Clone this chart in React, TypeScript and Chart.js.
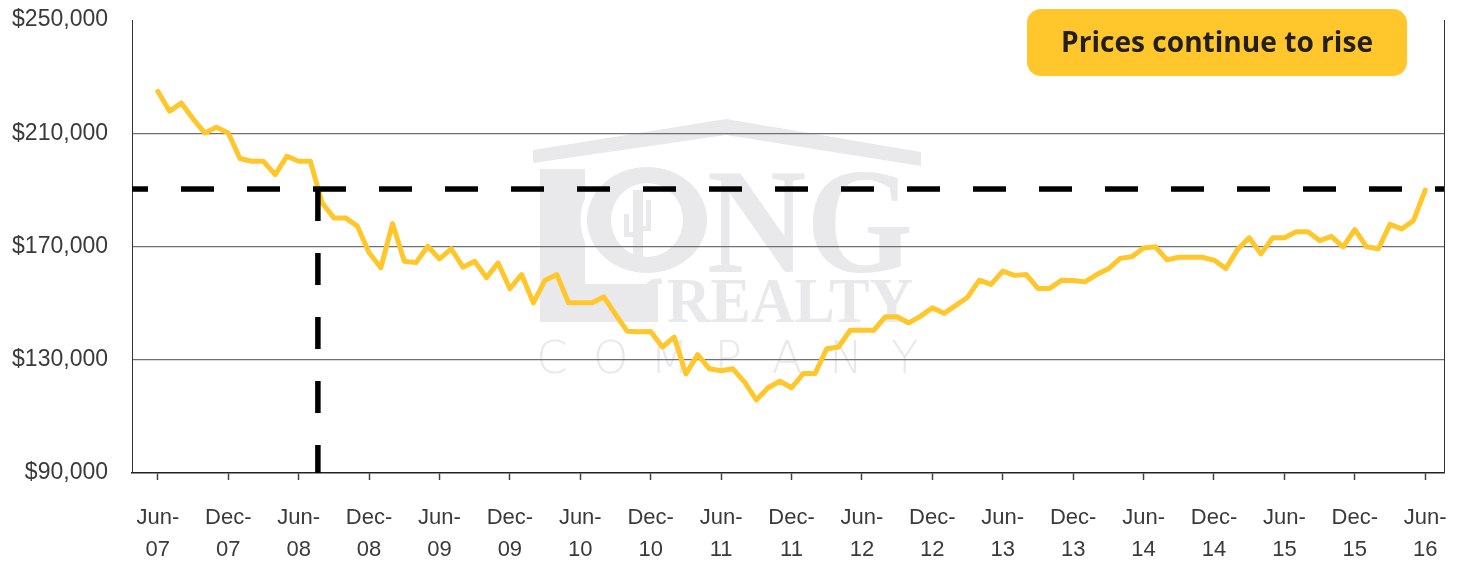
import React, { useEffect, useRef } from "react";
import { Chart, registerables } from "chart.js";

Chart.register(...registerables);

// ---- Data ----
const tickLabels = [
  "Jun-07", "Dec-07", "Jun-08", "Dec-08", "Jun-09", "Dec-09", "Jun-10", "Dec-10",
  "Jun-11", "Dec-11", "Jun-12", "Dec-12", "Jun-13", "Dec-13", "Jun-14", "Dec-14",
  "Jun-15", "Dec-15", "Jun-16",
];

// Monthly median price, Jun-07 .. Jun-16 (109 months)
const prices = [
  224800, 217800, 220700, 215100, 210100, 212100, 210100, 201100, 200100, 200100,
  195400, 201900, 200100, 200100, 185400, 180100, 180100, 177200, 167800, 162500,
  178100, 164800, 164300, 170100, 165600, 169200, 162700, 164800, 159000, 164200,
  155100, 160100, 150100, 158100, 160100, 150100, 150100, 150100, 152200, 146000,
  140100, 139900, 140000, 134500, 138000, 125000, 131800, 126800, 126100, 126800,
  122100, 115800, 120100, 122400, 120100, 125100, 125100, 133900, 134500, 140400,
  140400, 140400, 145200, 145200, 143000, 145400, 148400, 146400, 149200, 152100,
  158100, 156600, 161300, 159800, 160100, 155200, 155200, 158100, 158000, 157500,
  160100, 162100, 165800, 166400, 169500, 169900, 165300, 166200, 166200, 166200,
  165200, 162200, 168900, 173100, 167400, 173100, 173100, 175200, 175200, 172100,
  173600, 169900, 176000, 169900, 169200, 177800, 176200, 179200, 189900,
];

const yTicks = [90000, 130000, 170000, 210000, 250000];
const referencePrice = 190300; // horizontal dashed level
const crossoverMonth = 13.64; // where prices first fell below the level
const calloutText = "Prices continue to rise";

const X_MIN = -2.2;
const X_MAX = 109.6;
const Y_MIN = 90000;
const Y_MAX = 250000;

const YELLOW = "#FFC72C";
const WM = "#e9e9eb";

function fitText(ctx: CanvasRenderingContext2D, text: string, left: number, right: number, baseline: number, font: string) {
  ctx.font = font;
  ctx.textAlign = "left";
  ctx.textBaseline = "alphabetic";
  const w = ctx.measureText(text).width;
  ctx.save();
  ctx.translate(left, baseline);
  ctx.scale((right - left) / w, 1);
  ctx.fillText(text, 0, 0);
  ctx.restore();
}

const watermarkPlugin = {
  id: "watermark",
  beforeDraw(chart: any) {
    const ctx: CanvasRenderingContext2D = chart.ctx;
    ctx.save();
    ctx.fillStyle = WM;
    // roof
    ctx.beginPath();
    ctx.moveTo(533, 150);
    ctx.lineTo(726, 119);
    ctx.lineTo(921, 152);
    ctx.lineTo(921, 166);
    ctx.lineTo(726, 135);
    ctx.lineTo(533, 163);
    ctx.closePath();
    ctx.fill();
    // L
    ctx.fillRect(540, 169, 45, 153);
    ctx.fillRect(540, 284, 118, 38);
    ctx.beginPath();
    ctx.moveTo(646, 284);
    ctx.lineTo(660, 272);
    ctx.lineTo(662, 284);
    ctx.closePath();
    ctx.fill();
    // white separation around O
    ctx.strokeStyle = "#ffffff";
    ctx.lineWidth = 7;
    ctx.beginPath();
    ctx.ellipse(647, 220, 63, 56, 0, 0, Math.PI * 2);
    ctx.stroke();
    ctx.fillStyle = "#ffffff";
    ctx.beginPath();
    ctx.ellipse(647, 220, 60, 53, 0, 0, Math.PI * 2);
    ctx.fill();
    // O ring
    ctx.fillStyle = WM;
    ctx.beginPath();
    ctx.ellipse(647, 220, 60, 53, 0, 0, Math.PI * 2);
    ctx.ellipse(647, 220, 36, 37, 0, 0, Math.PI * 2);
    ctx.fill("evenodd");
    // cactus
    ctx.fillRect(633, 190, 10, 67);
    ctx.fillRect(624, 214, 5, 22);
    ctx.fillRect(624, 232, 12, 5);
    ctx.fillRect(646, 200, 5, 30);
    ctx.fillRect(640, 226, 11, 5);
    // NG
    fitText(ctx, "NG", 707, 913, 272, "bold 150px 'Liberation Serif', serif");
    // REALTY
    fitText(ctx, "REALTY", 667, 913, 322, "bold 64px 'Liberation Serif', serif");
    // COMPANY
    ctx.font = "200 45px 'DejaVu Sans', sans-serif";
    ctx.textAlign = "center";
    ctx.textBaseline = "alphabetic";
    const letters = "COMPANY".split("");
    letters.forEach((ch, k) => {
      ctx.fillText(ch, 552 + k * 58.8, 373);
    });
    ctx.restore();
  },
};

const overlayPlugin = {
  id: "overlay",
  afterDraw(chart: any) {
    const ctx: CanvasRenderingContext2D = chart.ctx;
    const a = chart.chartArea;
    ctx.save();
    // right border
    ctx.strokeStyle = "#333";
    ctx.lineWidth = 1;
    ctx.beginPath();
    ctx.moveTo(Math.round(a.right) + 0.5, a.top);
    ctx.lineTo(Math.round(a.right) + 0.5, a.bottom);
    ctx.stroke();
    // callout
    ctx.fillStyle = YELLOW;
    ctx.beginPath();
    (ctx as any).roundRect(1027, 9, 380, 67, 14);
    ctx.fill();
    ctx.fillStyle = "#231f20";
    fitText(ctx, calloutText, 1061, 1373, 52, "bold 28px 'Open Sans', Roboto, sans-serif");
    ctx.restore();
  },
};

export default function App() {
  const ref = useRef<HTMLCanvasElement | null>(null);

  useEffect(() => {
    if (!ref.current) return;
    Chart.defaults.font.family = "'Liberation Sans', Arial, sans-serif";
    const chart = new Chart(ref.current, {
      type: "line",
      data: {
        datasets: [
          {
            label: "level",
            data: [
              { x: X_MIN, y: referencePrice },
              { x: X_MAX, y: referencePrice },
            ],
            borderColor: "#000",
            borderWidth: 5.5,
            borderDash: [33, 33],
            borderDashOffset: 17,
            borderCapStyle: "butt",
            pointRadius: 0,
          },
          {
            label: "crossover",
            data: [
              { x: crossoverMonth, y: referencePrice },
              { x: crossoverMonth, y: Y_MIN },
            ],
            borderColor: "#000",
            borderWidth: 5.5,
            borderDash: [32, 32],
            borderCapStyle: "butt",
            pointRadius: 0,
          },
          {
            label: "Median price",
            data: prices.map((v, i) => ({ x: i, y: v })),
            borderColor: YELLOW,
            borderWidth: 5,
            borderJoinStyle: "round",
            borderCapStyle: "round",
            pointRadius: 0,
            tension: 0,
          },
        ],
      },
      options: {
        animation: false,
        responsive: false,
        devicePixelRatio: 1,
        layout: { padding: { top: 20, right: 16, left: 0, bottom: 0 } },
        plugins: { legend: { display: false }, tooltip: { enabled: false } },
        scales: {
          x: {
            type: "linear",
            min: X_MIN,
            max: X_MAX,
            afterBuildTicks: (s: any) => {
              s.ticks = tickLabels.map((_, k) => ({ value: k * 6 }));
            },
            afterFit: (s: any) => {
              s.height = 92;
              s.paddingLeft = 0;
              s.paddingRight = 0;
            },
            ticks: {
              autoSkip: false,
              maxRotation: 0,
              padding: 22,
              color: "#3a3a3a",
              font: { size: 22, lineHeight: 32 / 22 },
              callback: (_v: any, i: number) => {
                const parts = tickLabels[i].split("-");
                return [parts[0] + "-", parts[1]];
              },
            },
            grid: { drawOnChartArea: false, drawTicks: true, tickLength: 7, tickColor: "#444", tickWidth: 1.5 },
            border: { color: "#222", width: 1.5 },
          },
          y: {
            min: Y_MIN,
            max: Y_MAX,
            afterBuildTicks: (s: any) => {
              s.ticks = yTicks.map((v) => ({ value: v }));
            },
            afterFit: (s: any) => {
              s.width = 132;
              s.paddingTop = 0;
              s.paddingBottom = 0;
            },
            ticks: {
              padding: 24,
              color: "#3a3a3a",
              font: { size: 23 },
              callback: (v: any) => "$" + Number(v).toLocaleString("en-US"),
            },
            grid: {
              drawTicks: false,
              lineWidth: 1.3,
              color: (c: any) => {
                const v = c.tick ? c.tick.value : null;
                return v === Y_MIN || v === Y_MAX ? "rgba(0,0,0,0)" : "#707070";
              },
            },
            border: { color: "#333", width: 1 },
          },
        },
      },
      plugins: [watermarkPlugin, overlayPlugin],
    } as any);
    return () => chart.destroy();
  }, []);

  return (
    <div style={{ position: "absolute", left: 0, top: 0, width: 1460, height: 565, background: "#fff" }}>
      <canvas ref={ref} width={1460} height={565} style={{ display: "block" }} />
    </div>
  );
}
